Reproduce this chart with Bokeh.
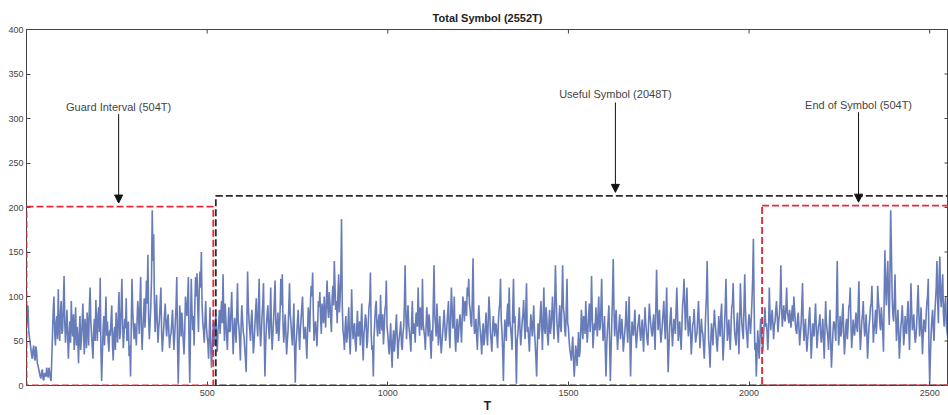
from bokeh.plotting import figure
from bokeh.models import (ColumnDataSource, FixedTicker, Range1d,
                          Arrow, NormalHead, Label, BoxAnnotation)
from bokeh.embed import file_html
from bokeh.resources import INLINE

# Magnitude of the time-domain OFDM symbol, one value every 2 samples (T)
amplitude = [
    68, 75, 90, 62, 55, 48, 42, 35, 30, 40, 45, 32, 28, 44, 38, 25, 22, 18, 14, 10, 8, 16, 18, 7, 6, 14, 12, 10, 20, 12, 9, 20, 15, 8, 5, 30, 58, 85, 100, 60, 45, 70, 78, 52, 108, 65, 50, 82, 95, 58,
    62, 90, 123, 70, 48, 66, 85, 55, 30, 58, 72, 48, 95, 64, 55, 80, 40, 62, 88, 45, 66, 52, 25, 60, 78, 40, 52, 70, 92, 58, 35, 75, 60, 42, 82, 66, 45, 88, 110, 72, 58, 44, 30, 62, 75, 50, 96, 68, 50, 80,
    88, 60, 121, 40, 5, 35, 62, 78, 45, 70, 100, 56, 72, 50, 38, 62, 56, 74, 90, 46, 28, 58, 66, 40, 82, 65, 48, 80, 105, 52, 60, 88, 120, 70, 42, 58, 75, 64, 98, 50, 55, 72, 33, 45, 10, 68, 120, 85, 64, 52,
    70, 58, 45, 72, 95, 80, 58, 90, 122, 66, 40, 62, 80, 98, 65, 85, 118, 92, 147, 75, 52, 70, 88, 120, 197, 140, 170, 95, 60, 82, 102, 70, 48, 64, 75, 92, 110, 60, 38, 52, 66, 80, 92, 68, 55, 72, 80, 60, 42, 55,
    58, 70, 85, 62, 40, 55, 72, 90, 122, 48, 2, 40, 90, 75, 55, 82, 68, 50, 35, 60, 100, 88, 78, 95, 122, 40, 3, 65, 120, 85, 62, 78, 45, 92, 122, 100, 126, 88, 60, 105, 128, 110, 150, 90, 70, 62, 48, 72, 95, 66,
    55, 48, 30, 60, 88, 42, 20, 38, 62, 72, 45, 66, 80, 52, 38, 62, 70, 85, 58, 80, 95, 70, 125, 78, 50, 92, 72, 55, 40, 68, 88, 60, 62, 84, 105, 70, 35, 58, 76, 62, 48, 80, 115, 72, 65, 50, 28, 66, 90, 74,
    60, 55, 42, 30, 15, 70, 128, 90, 72, 62, 50, 74, 85, 58, 36, 48, 66, 82, 98, 70, 55, 88, 120, 66, 44, 60, 78, 92, 115, 55, 10, 45, 68, 80, 90, 66, 52, 75, 110, 62, 40, 58, 75, 95, 118, 72, 58, 66, 82, 50,
    64, 85, 120, 90, 125, 70, 48, 62, 80, 58, 35, 50, 62, 88, 115, 80, 70, 55, 45, 68, 92, 40, 3, 45, 58, 72, 85, 60, 40, 62, 74, 88, 100, 70, 52, 58, 66, 48, 30, 62, 88, 75, 60, 95, 112, 100, 127, 80, 50, 66,
    72, 58, 44, 70, 95, 88, 105, 75, 58, 92, 82, 70, 100, 80, 65, 96, 118, 88, 76, 105, 92, 74, 60, 98, 112, 90, 140, 110, 85, 95, 70, 102, 125, 82, 98, 120, 187, 90, 62, 55, 40, 66, 78, 48, 55, 70, 88, 52, 35, 62,
    108, 70, 52, 66, 70, 48, 38, 62, 84, 55, 60, 72, 45, 68, 92, 50, 28, 58, 66, 80, 75, 42, 50, 70, 88, 95, 127, 60, 40, 45, 10, 55, 72, 88, 95, 66, 55, 72, 80, 58, 102, 70, 62, 80, 46, 62, 85, 90, 118, 65,
    58, 45, 35, 52, 70, 40, 20, 50, 62, 38, 48, 66, 80, 55, 30, 48, 55, 62, 72, 45, 40, 58, 66, 90, 135, 80, 52, 75, 90, 68, 60, 50, 38, 72, 95, 58, 70, 62, 48, 80, 82, 66, 110, 75, 56, 88, 75, 62, 120, 70,
    62, 55, 40, 66, 88, 70, 55, 80, 72, 48, 30, 62, 50, 92, 135, 78, 68, 55, 92, 70, 45, 60, 78, 52, 36, 48, 60, 72, 85, 66, 50, 58, 70, 82, 95, 60, 42, 75, 110, 88, 64, 70, 100, 55, 38, 62, 75, 48, 58, 72,
    80, 66, 48, 75, 100, 88, 72, 95, 92, 78, 110, 100, 120, 92, 85, 70, 66, 98, 143, 80, 58, 62, 75, 55, 40, 68, 90, 72, 62, 50, 35, 58, 70, 45, 52, 66, 82, 60, 45, 72, 100, 85, 60, 50, 38, 62, 78, 66, 55, 70,
    68, 55, 42, 70, 85, 92, 120, 75, 60, 40, 5, 48, 74, 62, 50, 80, 92, 66, 110, 72, 65, 55, 40, 88, 120, 70, 78, 45, 2, 50, 58, 72, 88, 62, 45, 58, 72, 80, 96, 70, 52, 85, 115, 60, 66, 52, 38, 62, 80, 68,
    55, 72, 90, 60, 48, 30, 10, 45, 70, 52, 62, 80, 95, 66, 40, 75, 110, 62, 58, 88, 78, 55, 45, 70, 85, 58, 66, 80, 100, 72, 52, 90, 135, 100, 72, 60, 48, 75, 90, 66, 60, 95, 135, 88, 80, 62, 55, 85, 120, 70,
    65, 50, 40, 35, 28, 42, 55, 30, 10, 25, 45, 38, 22, 40, 60, 32, 38, 60, 85, 66, 52, 78, 72, 58, 95, 70, 48, 62, 80, 92, 60, 75, 123, 80, 42, 58, 70, 62, 88, 72, 55, 80, 100, 62, 65, 88, 120, 70, 50, 62,
    78, 40, 10, 45, 62, 75, 90, 50, 5, 38, 70, 100, 142, 88, 55, 72, 85, 60, 40, 55, 68, 80, 52, 62, 75, 58, 38, 50, 60, 72, 95, 66, 48, 70, 100, 55, 10, 48, 72, 62, 56, 70, 85, 58, 42, 55, 66, 72, 80, 60,
    50, 62, 74, 55, 38, 66, 88, 70, 60, 50, 45, 72, 92, 78, 68, 60, 55, 70, 80, 58, 40, 88, 130, 90, 62, 75, 85, 62, 48, 58, 70, 82, 95, 70, 52, 80, 110, 55, 15, 40, 65, 78, 88, 62, 44, 60, 75, 68, 58, 85,
    110, 80, 50, 62, 72, 55, 40, 66, 90, 100, 120, 88, 62, 85, 110, 75, 55, 66, 78, 60, 35, 50, 68, 72, 86, 65, 48, 55, 60, 78, 95, 70, 42, 58, 75, 62, 58, 45, 30, 55, 82, 100, 140, 90, 52, 40, 20, 48, 70, 58,
    45, 66, 85, 70, 62, 48, 38, 55, 78, 62, 55, 80, 92, 58, 28, 45, 66, 88, 120, 78, 50, 62, 74, 55, 40, 66, 88, 92, 115, 80, 60, 52, 45, 70, 82, 58, 35, 72, 115, 88, 70, 60, 52, 90, 125, 85, 64, 55, 42, 70,
    80, 70, 58, 75, 95, 120, 165, 90, 40, 48, 10, 35, 62, 45, 30, 52, 75, 60, 48, 38, 55, 72, 88, 66, 70, 58, 40, 62, 110, 80, 62, 75, 85, 70, 52, 68, 72, 85, 95, 78, 60, 72, 80, 95, 135, 88, 66, 80, 90, 75,
    72, 88, 110, 82, 78, 70, 85, 76, 65, 80, 90, 72, 100, 85, 70, 62, 58, 75, 82, 66, 45, 58, 68, 90, 115, 70, 50, 62, 75, 55, 38, 50, 62, 78, 88, 60, 30, 48, 70, 62, 55, 75, 92, 66, 42, 55, 66, 70, 80, 58,
    48, 60, 75, 52, 30, 62, 95, 70, 62, 55, 40, 66, 85, 48, 20, 40, 58, 72, 70, 62, 50, 88, 140, 75, 45, 60, 78, 55, 60, 80, 92, 58, 35, 50, 68, 75, 52, 66, 88, 92, 110, 70, 42, 55, 74, 62, 56, 70, 82, 66,
    60, 88, 117, 66, 40, 55, 72, 80, 95, 70, 55, 62, 80, 58, 30, 50, 66, 75, 88, 92, 112, 80, 48, 62, 70, 85, 58, 72, 112, 95, 85, 70, 62, 88, 75, 60, 38, 98, 152, 110, 90, 120, 140, 96, 68, 130, 197, 150, 100, 80,
    72, 95, 125, 80, 50, 66, 85, 60, 30, 48, 66, 75, 90, 70, 45, 58, 78, 62, 58, 80, 95, 68, 40, 72, 115, 85, 62, 70, 80, 60, 48, 55, 70, 92, 113, 80, 55, 66, 88, 62, 35, 58, 74, 70, 60, 78, 92, 100, 120, 40,
    2, 35, 60, 75, 85, 62, 50, 80, 95, 110, 140, 95, 70, 120, 145, 100, 88, 110, 125, 80, 66, 90, 100, 70, 60, 55,
]
sample_step = 2
samples = [i * sample_step for i in range(len(amplitude))]

# Symbol parts: guard interval, useful symbol, end of symbol
region_names = ["Guard Interval (504T)", "Useful Symbol (2048T)", "End of Symbol (504T)"]
region_left = [0, 524, 2036]
region_right = [517, 2560, 2560]
region_top = [201, 213, 202]
region_color = ["#E8283A", "#2A2A2A", "#E8283A"]

# Callout arrows: x position, tail and tip heights, label height
arrow_x = [255, 1630, 2303]
arrow_tail = [305, 318, 307]
arrow_tip = [205, 217, 206]
label_y = [313, 327, 315]

x_ticks = [500, 1000, 1500, 2000, 2500]
y_ticks = [0, 50, 100, 150, 200, 250, 300, 350, 400]
x_max, y_max = 2552, 400

FONT = "Liberation Sans"
AXIS_COLOR = "#444444"

p = figure(width=948, height=415, output_backend="svg", toolbar_location=None,
           x_range=Range1d(0, x_max), y_range=Range1d(0, y_max),
           min_border_left=26, min_border_right=0, min_border_top=29,
           min_border_bottom=30, title="Total Symbol (2552T)")
p.background_fill_color = "white"
p.border_fill_color = "white"
p.outline_line_color = AXIS_COLOR
p.grid.visible = False

p.title.align = "center"
p.title.text_font = FONT
p.title.text_font_size = "11px"
p.title.text_font_style = "bold"
p.title.text_color = "#222222"
p.title.standoff = 12

src = ColumnDataSource(dict(t=samples, a=amplitude))
p.line("t", "a", source=src, line_color="#2D4A9E", line_width=1.6, line_alpha=0.72)

for left, right, top, color in zip(region_left, region_right, region_top, region_color):
    p.add_layout(BoxAnnotation(left=left, right=right, bottom=0, top=top,
                               fill_alpha=0, line_color=color, line_alpha=1,
                               line_width=1.8, line_dash="7 3"))

for name, x, y0, y1, ly in zip(region_names, arrow_x, arrow_tail, arrow_tip, label_y):
    p.add_layout(Arrow(x_start=x, y_start=y0, x_end=x, y_end=y1,
                       line_color="#111111", line_width=1,
                       end=NormalHead(size=8, fill_color="#111111", line_color="#111111")))
    p.add_layout(Label(x=x, y=ly, text=name, text_align="center", text_baseline="middle",
                       text_font=FONT, text_font_size="11px", text_color="#444444"))

# Bottom and left axes with inward ticks
for ax in (p.xaxis[0], p.yaxis[0]):
    ax.major_tick_in = 4
    ax.major_tick_out = 0
    ax.minor_tick_in = 0
    ax.minor_tick_out = 0
    ax.axis_line_color = AXIS_COLOR
    ax.major_tick_line_color = AXIS_COLOR
    ax.major_label_text_font = FONT
    ax.major_label_text_font_size = "9px"
    ax.major_label_text_color = "#444444"
p.xaxis.ticker = FixedTicker(ticks=x_ticks)
p.yaxis.ticker = FixedTicker(ticks=y_ticks)
p.xaxis.major_label_standoff = 4
p.yaxis.major_label_standoff = 3
p.xaxis.axis_label = "T"
p.xaxis.axis_label_text_font = FONT
p.xaxis.axis_label_text_font_size = "12px"
p.xaxis.axis_label_text_font_style = "bold"
p.xaxis.axis_label_text_color = "#222222"
p.xaxis.axis_label_standoff = 0

# Matching inward ticks on the top and right edges of the box
p.segment(x0=x_ticks, y0=[y_max] * len(x_ticks), x1=x_ticks,
          y1=[y_max - 4.5] * len(x_ticks), line_color=AXIS_COLOR, line_width=1)
p.segment(x0=[x_max] * len(y_ticks), y0=y_ticks, x1=[x_max - 11] * len(y_ticks),
          y1=y_ticks, line_color=AXIS_COLOR, line_width=1)

open("out.html", "w").write(file_html(p, INLINE))
